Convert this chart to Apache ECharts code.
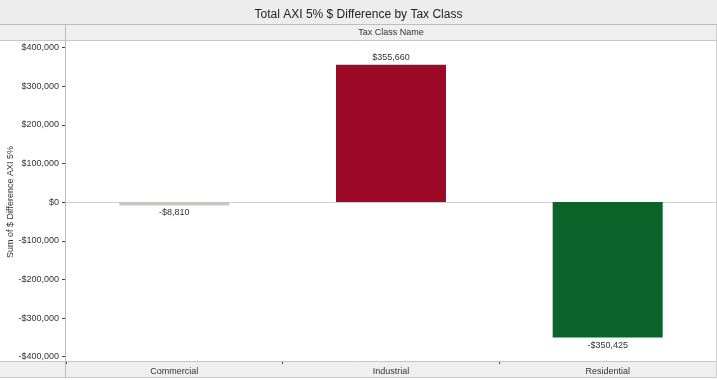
<!DOCTYPE html>
<html><head><meta charset="utf-8">
<script src="https://cdn.jsdelivr.net/npm/echarts@6/dist/echarts.min.js"></script>
<style>html,body{margin:0;padding:0;background:#fff}#c{width:717px;height:380px}</style>
</head><body><div id="c"></div>
<script>
const categories = ['Commercial', 'Industrial', 'Residential'];
const values = [-8810, 355660, -350425];
const barColors = ['#c6c6c0', '#9d0a27', '#0c6329'];
const yTicks = [-400000, -300000, -200000, -100000, 0, 100000, 200000, 300000, 400000];

const F = 'Liberation Sans';
function money(v) {
  const s = '$' + Math.abs(v).toLocaleString('en-US');
  return v < 0 ? '-' + s : s;
}
const chart = echarts.init(document.getElementById('c'));
chart.setOption({
  animation: false,
  backgroundColor: '#ffffff',
  title: {
    text: 'Total AXI 5% $ Difference by Tax Class',
    left: 'center', top: 4,
    textStyle: { fontFamily: F, fontSize: 12, fontWeight: 'normal', color: '#222' }
  },
  grid: { left: 66, right: 1, top: 47.5, bottom: 23.3, outerBoundsMode: 'none', containLabel: false },
  xAxis: {
    type: 'category', data: categories,
    offset: 4.3,
    axisLine: { show: false, onZero: false },
    axisTick: { show: true, length: 3, lineStyle: { color: '#444' } },
    axisLabel: { fontFamily: F, fontSize: 9, color: '#333', margin: 6 }
  },
  yAxis: {
    type: 'value', min: yTicks[0], max: yTicks[yTicks.length - 1], interval: 100000,
    axisLine: { show: false },
    axisTick: { show: true, length: 4, lineStyle: { color: '#444' } },
    splitLine: { show: false },
    axisLabel: { fontFamily: F, fontSize: 9, color: '#333', margin: 7, formatter: money }
  },
  series: [{
    type: 'bar', barWidth: 110,
    data: values.map((v, i) => ({
      value: v,
      itemStyle: { color: barColors[i] },
      label: { show: true, position: v >= 0 ? 'top' : 'bottom', distance: 3,
               fontFamily: F, fontSize: 9, color: '#333', formatter: p => money(p.value) }
    })),
    markLine: {
      silent: true, symbol: 'none', label: { show: false },
      lineStyle: { color: '#cfcfcf', type: 'solid', width: 1 },
      data: [{ yAxis: 0 }]
    },
    z: 5
  }],
  graphic: [
    { type: 'rect', z: -10, shape: { x: 0, y: 0, width: 717, height: 24 }, style: { fill: '#ededed' } },
    { type: 'rect', z: -10, shape: { x: 0, y: 25, width: 717, height: 16 }, style: { fill: '#efefef' } },
    { type: 'rect', z: -10, shape: { x: 0, y: 361, width: 717, height: 16 }, style: { fill: '#efefef' } },
    { type: 'line', z: 50, shape: { x1: 0, y1: 24.5, x2: 717, y2: 24.5 }, style: { stroke: '#bdbdbd', lineWidth: 1 } },
    { type: 'line', z: 50, shape: { x1: 0, y1: 40.5, x2: 717, y2: 40.5 }, style: { stroke: '#c8c8c8', lineWidth: 1 } },
    { type: 'line', z: 50, shape: { x1: 0, y1: 361.5, x2: 717, y2: 361.5 }, style: { stroke: '#c8c8c8', lineWidth: 1 } },
    { type: 'line', z: 50, shape: { x1: 0, y1: 377.5, x2: 717, y2: 377.5 }, style: { stroke: '#c8c8c8', lineWidth: 1 } },
    { type: 'line', z: 50, shape: { x1: 65.5, y1: 25, x2: 65.5, y2: 378 }, style: { stroke: '#bdbdbd', lineWidth: 1 } },
    { type: 'line', z: 50, shape: { x1: 716.5, y1: 25, x2: 716.5, y2: 378 }, style: { stroke: '#d0d0d0', lineWidth: 1 } },
    { type: 'text', z: 50, x: 391, y: 33, style: { text: 'Tax Class Name', fontFamily: F, fontSize: 9, fill: '#333', align: 'center', verticalAlign: 'middle' } },
    { type: 'text', z: 50, x: 11, y: 202, rotation: Math.PI / 2, style: { text: 'Sum of $ Difference AXI 5%', fontFamily: F, fontSize: 9, fill: '#333', align: 'center', verticalAlign: 'middle' } }
  ]
});
</script></body></html>
